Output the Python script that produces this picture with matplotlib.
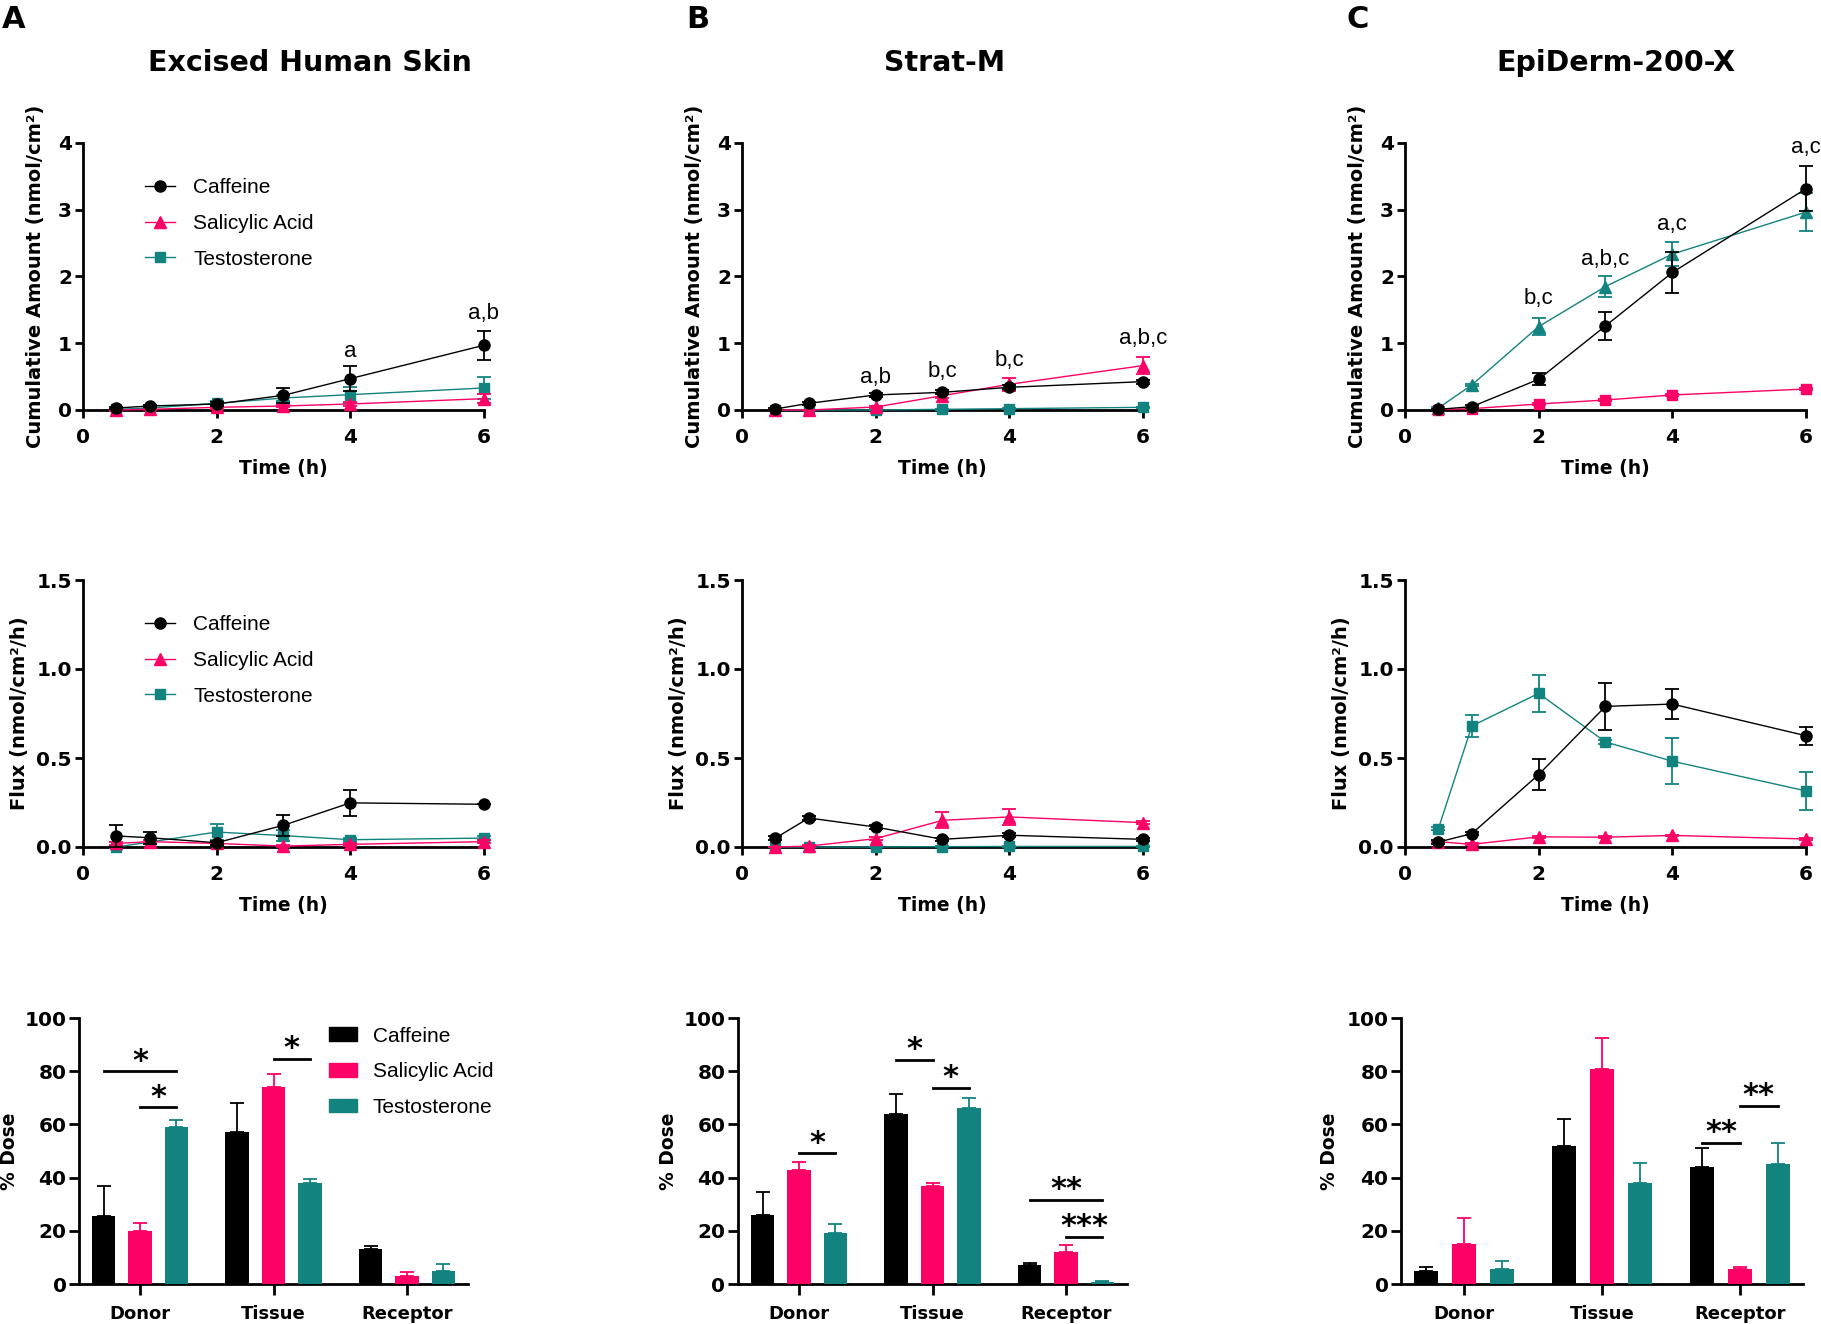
import matplotlib.pyplot as plt
from matplotlib.lines import Line2D
from matplotlib.patches import Patch
import numpy as np

W, H = 1821, 1324

plt.rcParams['font.family'] = ['DejaVu Sans']
plt.rcParams['axes.linewidth'] = 2.0

BLACK = '#000000'
PINK = '#FF0066'
TEAL = '#138380'
colors = [BLACK, PINK, TEAL]

models = ['Excised Human Skin', 'Strat-M', 'EpiDerm-200-X']
letters = ['A', 'B', 'C']
compounds = ['Caffeine', 'Salicylic Acid', 'Testosterone']
compartments = ['Donor', 'Tissue', 'Receptor']
time_h = [0.5, 1, 2, 3, 4, 6]

# cumulative amount (nmol/cm2); rows = caffeine, salicylic acid, testosterone
skin_cum = [[0.03, 0.06, 0.09, 0.22, 0.47, 0.97],
            [0.00, 0.01, 0.04, 0.06, 0.09, 0.17],
            [0.01, 0.03, 0.10, 0.18, 0.23, 0.33]]
skin_cum_err = [[0.02, 0.02, 0.03, 0.11, 0.19, 0.22],
                [0.01, 0.01, 0.02, 0.02, 0.03, 0.07],
                [0.01, 0.01, 0.03, 0.05, 0.12, 0.16]]
stratm_cum = [[0.015, 0.10, 0.225, 0.265, 0.34, 0.425],
              [0.00, 0.00, 0.045, 0.215, 0.385, 0.665],
              [0.00, 0.00, 0.00, 0.01, 0.02, 0.04]]
stratm_cum_err = [[0.01, 0.02, 0.03, 0.03, 0.03, 0.03],
                  [0.00, 0.00, 0.02, 0.04, 0.10, 0.13],
                  [0.00, 0.00, 0.00, 0.01, 0.01, 0.01]]
epi_cum = [[0.01, 0.05, 0.46, 1.26, 2.06, 3.315],
           [0.005, 0.02, 0.09, 0.15, 0.225, 0.315],
           [0.03, 0.375, 1.25, 1.85, 2.335, 2.965]]
epi_cum_err = [[0.01, 0.02, 0.09, 0.21, 0.30, 0.335],
               [0.00, 0.01, 0.01, 0.02, 0.02, 0.02],
               [0.01, 0.02, 0.13, 0.15, 0.18, 0.29]]

# flux (nmol/cm2/h)
skin_flux = [[0.062, 0.052, 0.024, 0.122, 0.248, 0.24],
             [0.02, 0.03, 0.02, 0.005, 0.015, 0.03],
             [0.00, 0.028, 0.084, 0.064, 0.041, 0.05]]
skin_flux_err = [[0.06, 0.035, 0.01, 0.06, 0.075, 0.0],
                 [0.01, 0.01, 0.01, 0.005, 0.01, 0.01],
                 [0.005, 0.01, 0.045, 0.03, 0.01, 0.01]]
stratm_flux = [[0.05, 0.163, 0.112, 0.043, 0.066, 0.043],
               [0.00, 0.005, 0.047, 0.15, 0.169, 0.137],
               [0.00, 0.00, 0.00, 0.002, 0.003, 0.003]]
stratm_flux_err = [[0.01, 0.01, 0.01, 0.01, 0.01, 0.01],
                   [0.00, 0.005, 0.01, 0.045, 0.045, 0.01],
                   [0.00, 0.00, 0.00, 0.002, 0.002, 0.002]]
epi_flux = [[0.028, 0.075, 0.407, 0.79, 0.803, 0.625],
            [0.03, 0.015, 0.057, 0.055, 0.065, 0.045],
            [0.103, 0.68, 0.863, 0.59, 0.482, 0.315]]
epi_flux_err = [[0.01, 0.01, 0.085, 0.13, 0.085, 0.05],
                [0.005, 0.005, 0.005, 0.005, 0.005, 0.005],
                [0.01, 0.06, 0.105, 0.01, 0.13, 0.105]]

# % dose per compartment (Donor, Tissue, Receptor)
skin_dose = [[25.5, 57, 13], [20, 74, 3], [59, 38, 5]]
skin_dose_err = [[11.5, 11, 1.3], [3, 5, 1.5], [2.5, 1.5, 2.5]]
stratm_dose = [[26, 64, 7], [43, 37, 12], [19, 66, 0.6]]
stratm_dose_err = [[8.5, 7.5, 1], [3, 0.8, 2.5], [3.5, 4, 0.6]]
epi_dose = [[5, 52, 44], [15, 81, 5.5], [5.5, 38, 45]]
epi_dose_err = [[1.5, 10, 7], [10, 11.5, 1], [3, 7.5, 8]]

# significance brackets: (compartment, bar from, bar to, level, stars)
skin_sig = [(0, 0, 2, 80, '*'), (0, 1, 2, 66.4, '*'), (1, 1, 2, 84.7, '*')]
stratm_sig = [(0, 1, 2, 49.1, '*'), (1, 0, 1, 84.3, '*'), (1, 1, 2, 73.7, '*'),
              (2, 0, 2, 31.7, '**'), (2, 1, 2, 17.8, '***')]
epi_sig = [(2, 0, 1, 53, '**'), (2, 1, 2, 66.9, '**')]

# letters above cumulative points: (time, y baseline, text)
skin_letters = [(4, 0.80, 'a'), (6, 1.36, 'a,b')]
stratm_letters = [(2, 0.41, 'a,b'), (3, 0.49, 'b,c'), (4, 0.665, 'b,c'), (6, 0.99, 'a,b,c')]
epi_letters = [(2, 1.585, 'b,c'), (3, 2.165, 'a,b,c'), (4, 2.70, 'a,c'), (6, 3.85, 'a,c')]

cum_data = [(skin_cum, skin_cum_err), (stratm_cum, stratm_cum_err), (epi_cum, epi_cum_err)]
flux_data = [(skin_flux, skin_flux_err), (stratm_flux, stratm_flux_err), (epi_flux, epi_flux_err)]
dose_data = [(skin_dose, skin_dose_err), (stratm_dose, stratm_dose_err), (epi_dose, epi_dose_err)]
sig_data = [skin_sig, stratm_sig, epi_sig]
letter_data = [skin_letters, stratm_letters, epi_letters]
cum_markers = [['o', '^', 's'], ['o', '^', 's'], ['o', 's', '^']]
flux_markers = [['o', '^', 's'], ['o', '^', 's'], ['o', '^', 's']]

fig = plt.figure(figsize=(W / 100, H / 100), dpi=100)


def px_axes(left, right, top, bottom):
    return fig.add_axes([left / W, 1 - bottom / H, (right - left) / W, (bottom - top) / H])


def style_axes(ax):
    ax.spines['top'].set_visible(False)
    ax.spines['right'].set_visible(False)
    ax.spines['left'].set_linewidth(2)
    ax.spines['bottom'].set_linewidth(2)
    for lab in ax.get_xticklabels() + ax.get_yticklabels():
        lab.set_fontweight('bold')


def legend_lines(ax, markers):
    handles = [Line2D([0], [0], color=colors[i], marker=markers[i], lw=1.0,
                      ms=8 if markers[i] != 's' else 7) for i in range(3)]
    ax.legend(handles, compounds, loc='upper left', bbox_to_anchor=(0.155, 0.868),
              frameon=False, prop={'family': 'Liberation Sans', 'size': 15},
              handlelength=1.45, handletextpad=0.85, labelspacing=0.8,
              borderpad=0, borderaxespad=0)


def line_panel(ax, means, errs, markers, ymax, yticks, ylabel, ylab_x, fmt):
    for i in [2, 1, 0]:
        cont = ax.errorbar(time_h, means[i], yerr=errs[i], color=colors[i],
                           marker=markers[i], ms=8 if markers[i] != 's' else 7,
                           lw=1.0, elinewidth=1.3, capsize=5, capthick=1.3,
                           zorder=5 - i)
        for art in cont.get_children():
            art.set_clip_on(False)
    ax.set_xlim(0, 6)
    ax.set_ylim(0, ymax)
    ax.set_xticks([0, 2, 4, 6])
    ax.set_yticks(yticks)
    ax.set_yticklabels([fmt.format(v) for v in yticks])
    ax.tick_params(axis='both', length=6, width=2, labelsize=14.5)
    ax.tick_params(axis='x', pad=7)
    ax.tick_params(axis='y', pad=2)
    ax.set_xlabel('Time (h)', fontsize=13.5, fontweight='bold', va='top')
    ax.xaxis.set_label_coords(0.5, -0.185)
    ax.set_ylabel(ylabel, fontsize=14, fontweight='bold')
    ax.yaxis.set_label_coords(ylab_x, 0.5)
    style_axes(ax)


def bar_panel(ax, means, errs, sigs):
    x = np.arange(len(compartments))
    offs = [-0.273, 0.0, 0.273]
    for i in range(3):
        ax.bar(x + offs[i], means[i], width=0.175, color=colors[i],
               yerr=[np.zeros(3), errs[i]],
               error_kw=dict(ecolor=colors[i], elinewidth=1.3, capsize=5, capthick=1.3),
               zorder=3)
    for grp, b1, b2, level, stars in sigs:
        x1 = grp + offs[b1]
        x2 = grp + offs[b2]
        ax.plot([x1, x2], [level, level], color='black', lw=2, zorder=4)
        ax.text((x1 + x2) / 2, level + 0.6, stars, ha='center', va='baseline',
                fontsize=22, fontweight='bold')
    ax.set_xlim(-0.457, 2.457)
    ax.set_ylim(0, 100)
    ax.set_yticks([0, 20, 40, 60, 80, 100])
    ax.set_xticks(x)
    ax.set_xticklabels(compartments)
    ax.tick_params(axis='both', width=2, labelsize=14.5)
    ax.tick_params(axis='y', length=7, pad=2)
    ax.tick_params(axis='x', length=8, pad=7, labelsize=13)
    ax.set_ylabel('% Dose', fontsize=13.5, fontweight='bold')
    ax.yaxis.set_label_coords(-0.153, 0.5)
    style_axes(ax)


line_cols = [(83, 484), (742, 1143), (1405, 1806)]
bar_cols = [(79, 468), (738, 1127), (1401, 1803)]
title_x = [310, 945, 1616]
letter_x = [2, 686, 1347]

for k in range(3):
    ax1 = px_axes(line_cols[k][0], line_cols[k][1], 143, 410)
    line_panel(ax1, cum_data[k][0], cum_data[k][1], cum_markers[k], 4, [0, 1, 2, 3, 4],
               'Cumulative Amount (nmol/cm²)', -0.094, '{:.0f}')
    for t, yb, txt in letter_data[k]:
        ax1.text(t, yb, txt, ha='center', va='baseline', fontsize=16,
                 family='Liberation Sans', clip_on=False)

    ax2 = px_axes(line_cols[k][0], line_cols[k][1], 580, 847)
    line_panel(ax2, flux_data[k][0], flux_data[k][1], flux_markers[k], 1.5,
               [0.0, 0.5, 1.0, 1.5], 'Flux (nmol/cm²/h)', -0.134, '{:.1f}')

    ax3 = px_axes(bar_cols[k][0], bar_cols[k][1], 1018, 1284)
    bar_panel(ax3, dose_data[k][0], dose_data[k][1], sig_data[k])

    if k == 0:
        legend_lines(ax1, cum_markers[0])
        legend_lines(ax2, flux_markers[0])
        patches = [Patch(color=colors[i]) for i in range(3)]
        ax3.legend(patches, compounds, loc='upper left', bbox_to_anchor=(0.643, 0.968),
                   frameon=False, prop={'family': 'Liberation Sans', 'size': 15},
                   handlelength=1.35, handleheight=0.65, handletextpad=0.75,
                   labelspacing=0.8, borderpad=0, borderaxespad=0)

    fig.text(title_x[k] / W, 1 - 63 / H, models[k], ha='center', va='center',
             fontsize=20.5, fontweight='bold')
    fig.text(letter_x[k] / W, 1 - 5 / H, letters[k], ha='left', va='top',
             fontsize=22, fontweight='bold')

fig.savefig('out.png', dpi=100)
